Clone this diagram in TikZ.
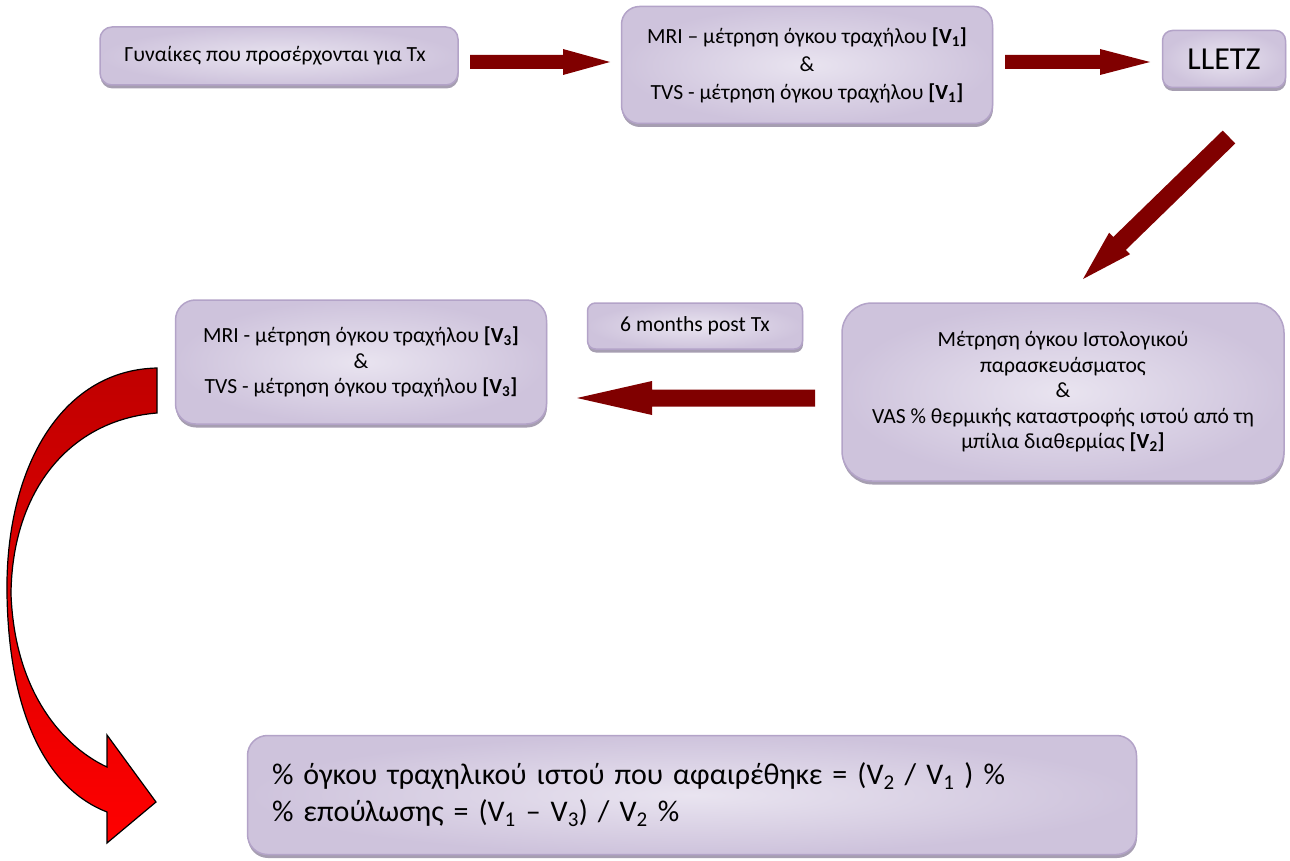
\documentclass[tikz,border=0pt]{standalone}
\usepackage{fontspec}
\setmainfont{Carlito}
\usetikzlibrary{calc}
\usetikzlibrary{shadows}
\definecolor{boxlight}{HTML}{E9E4F0}
\definecolor{boxdark}{HTML}{CEC3DC}
\definecolor{boxline}{HTML}{B3A3C8}
\definecolor{boxshade}{HTML}{9C93A8}
\definecolor{arrowred}{HTML}{800000}
\definecolor{curvetop}{HTML}{C00000}
\definecolor{curvebottom}{HTML}{FF0000}
\tikzstyle{box}=[draw=boxline,line width=1.5pt,rounded corners=12pt,inner color=boxlight,outer color=boxdark,
  drop shadow={shadow xshift=0.5pt,shadow yshift=-3.5pt,fill=boxshade,opacity=0.9},
  align=center,inner sep=0pt,font=\fontsize{21.6}{25.5}\selectfont]
\newcommand{\blockarrow}[5]{% start, end, half shaft, half head, head length
  \coordinate (hb) at ($(#2)!#5!(#1)$);
  \fill[arrowred] ($(#1)!#3!90:(#2)$) -- ($(hb)!#3!-90:(#1)$) -- ($(hb)!#4!-90:(#1)$) -- (#2)
    -- ($(hb)!#4!90:(#1)$) -- ($(hb)!#3!90:(#1)$) -- ($(#1)!#3!-90:(#2)$) -- cycle;
}
\begin{document}
\begin{tikzpicture}[x=1pt,y=-1pt]
\useasboundingbox (0,0) rectangle (1290,861);
% top row
\node[box,minimum width=358pt,minimum height=58pt] (women) at (279,56) {Γυναίκες που προσέρχονται για Tx\vphantom{y}\hspace*{8pt}};
\node[box,minimum width=371pt,minimum height=117pt,rounded corners=18pt,font=\fontsize{21.6}{28}\selectfont] (mri1) at (807,65)
  {MRI – μέτρηση όγκου τραχήλου \textbf{[V\textsubscript{1}]}\\ \&\\ TVS - μέτρηση όγκου τραχήλου \textbf{[V\textsubscript{1}]}};
\node[box,minimum width=123pt,minimum height=57pt,rounded corners=10pt,font=\fontsize{32}{36}\selectfont] (lletz) at (1224,59) {LLETZ};
% middle row
\node[box,minimum width=442pt,minimum height=178pt,rounded corners=30pt] (histo) at (1063,392)
  {Μέτρηση όγκου Ιστολογικού\\ παρασκευάσματος\\ \&\\ VAS \% θερμικής καταστροφής ιστού από τη\\ μπίλια διαθερμίας \textbf{[V\textsubscript{2}]}};
\node[box,minimum width=215pt,minimum height=46pt,rounded corners=8pt] (post) at (695,326) {6 months post Tx};
\node[box,minimum width=371pt,minimum height=124pt,rounded corners=20pt] (mri3) at (361,362)
  {MRI - μέτρηση όγκου τραχήλου \textbf{[V\textsubscript{3}]}\\ \&\\ TVS - μέτρηση όγκου τραχήλου \textbf{[V\textsubscript{3}]}};
% result
\node[box,minimum width=889pt,minimum height=119pt,rounded corners=20pt,text width=840pt,align=left,font=\fontsize{30}{37}\selectfont] (result) at (692,795)
  {\% όγκου τραχηλικού ιστού που αφαιρέθηκε = (V\textsubscript{2} / V\textsubscript{1} ) \%\\ \% επούλωσης = (V\textsubscript{1} – V\textsubscript{3}) / V\textsubscript{2} \%};
% block arrows
\coordinate (a1s) at (470,62);  \coordinate (a1e) at (610,62);
\coordinate (a2s) at (1005,62); \coordinate (a2e) at (1150,62);
\coordinate (a3s) at (1229,137); \coordinate (a3e) at (1083,279);
\coordinate (a4s) at (815,398); \coordinate (a4e) at (577,398);
\blockarrow{a1s}{a1e}{7pt}{13pt}{47pt}
\blockarrow{a2s}{a2e}{7pt}{13pt}{50pt}
\blockarrow{a3s}{a3e}{9pt}{15pt}{51pt}
\blockarrow{a4s}{a4e}{8.5pt}{17pt}{75pt}
% curved arrow
\path[draw=black,line width=1.2pt,top color=curvetop,bottom color=curvebottom]
  (157,368) .. controls (60,370) and (5,470) .. (7,594) .. controls (9,720) and (50,790) .. (107,812)
  -- (107,843) -- (156,802) -- (107,735) -- (107,767)
  .. controls (70,750) and (15,700) .. (11,594) .. controls (12,490) and (70,420) .. (157,413) -- cycle;
\end{tikzpicture}
\end{document}
